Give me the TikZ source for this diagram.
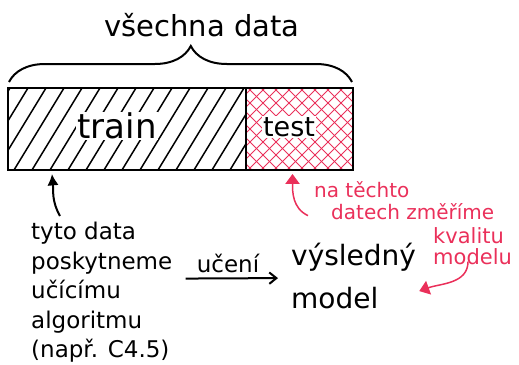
\documentclass[tikz,border=0pt]{standalone}
\usepackage{fontspec}
\setmainfont{DejaVu Sans}
\usepackage{tikz}
\usetikzlibrary{positioning}
\usetikzlibrary{arrows.meta}
\usetikzlibrary{decorations.pathreplacing}
\definecolor{redpen}{RGB}{234,48,90}
\newcommand{\handsize}[2]{\fontsize{#1}{#2}\selectfont}

\begin{document}
\begin{tikzpicture}[x=1pt,y=-1pt]
        \tikzset{edge/.style = {-{Latex[length=4mm,width=4mm]}, line width=2pt}}
        \tikzset{openedge/.style = {-{Straight Barb[length=2.5mm,width=4mm]}, line width=2pt}}
        \tikzset{rededge/.style = {-{Triangle[length=3.5mm,width=5mm]}, redpen, line width=1.5pt}}
        \tikzset{box/.style = {draw, line width=2.5pt, outer sep=0pt, minimum height=82pt}}
        \tikzset{hand/.style = {inner sep=1pt}}

        \useasboundingbox (0,0) rectangle (519,364);

        % all data
        \node[hand, font=\handsize{29}{34}] (all) at (202,25) {všechna data};
        \draw[line width=2pt, decorate, decoration={brace, amplitude=36pt, aspect=0.53}] (9,82) -- (352,82);

        % split
        \node[box, minimum width=238pt] (trainbox) at (127,129) {};
        \node[box, minimum width=107pt, right=0pt of trainbox] (testbox) {};

        % train hatch
        \begin{scope}
          \clip (trainbox.south west) rectangle (trainbox.north east);
          \foreach \x in {-40,-22,...,250}
            \draw[line width=1.5pt] (\x,170) -- (\x+50,88);
        \end{scope}

        % test hatch
        \begin{scope}
          \clip (testbox.south west) rectangle (testbox.north east);
          \foreach \x in {170,183,...,360} {
            \draw[redpen, line width=0.8pt] (\x,170) -- (\x+82,88);
            \draw[redpen, line width=0.8pt] (\x,88) -- (\x+82,170);
          }
        \end{scope}
        \draw[box, fill=none] (trainbox.north west) rectangle (testbox.south east);
        \draw[line width=2.5pt] (trainbox.north east) -- (trainbox.south east);

        \node[hand, fill=white, font=\handsize{34}{40}] (trainlbl) at (117,126) {train};
        \node[hand, fill=white, font=\handsize{27}{32}] (testlbl) at (289,127) {test};

        % learning
        \node[hand, anchor=north west, align=left, font=\handsize{23}{29.5}] (feed) at (30,221)
          {tyto data\\poskytneme\\učícímu\\algoritmu\\(např. C4.5)};
        \node[hand, font=\handsize{23}{28}] (learn) at (228,263) {učení};
        \node[hand, anchor=north west, align=left, font=\handsize{28}{43}] (model) at (290,242)
          {výsledný\\model};

        \coordinate (trainpt) at ([xshift=-75pt,yshift=-4pt]trainbox.south);
        \draw[edge] ([xshift=30pt,yshift=5pt]feed.north west) to[out=120,in=-85] (trainpt);
        \draw[openedge] ([xshift=-10pt,yshift=-5pt]learn.south west) -- ([xshift=-12pt,yshift=-2pt]model.west);

        % evaluation
        \node[hand, anchor=north west, align=left, redpen, font=\handsize{20}{22}] (measure) at (313,180)
          {na těchto\\\hspace*{17pt}datech změříme};
        \node[hand, anchor=north west, align=left, redpen, font=\handsize{21}{21}] (quality) at (432,226)
          {kvalitu\\modelu};

        \coordinate (testpt) at ([xshift=-7pt,yshift=-4pt]testbox.south);
        \draw[rededge] ([xshift=-5pt,yshift=5pt]measure.south west) to[out=155,in=-90] (testpt);
        \draw[rededge] ([xshift=36pt,yshift=4pt]quality.south west) to[out=-90,in=20] ([xshift=2pt,yshift=-15pt]model.east);

\end{tikzpicture}
\end{document}
